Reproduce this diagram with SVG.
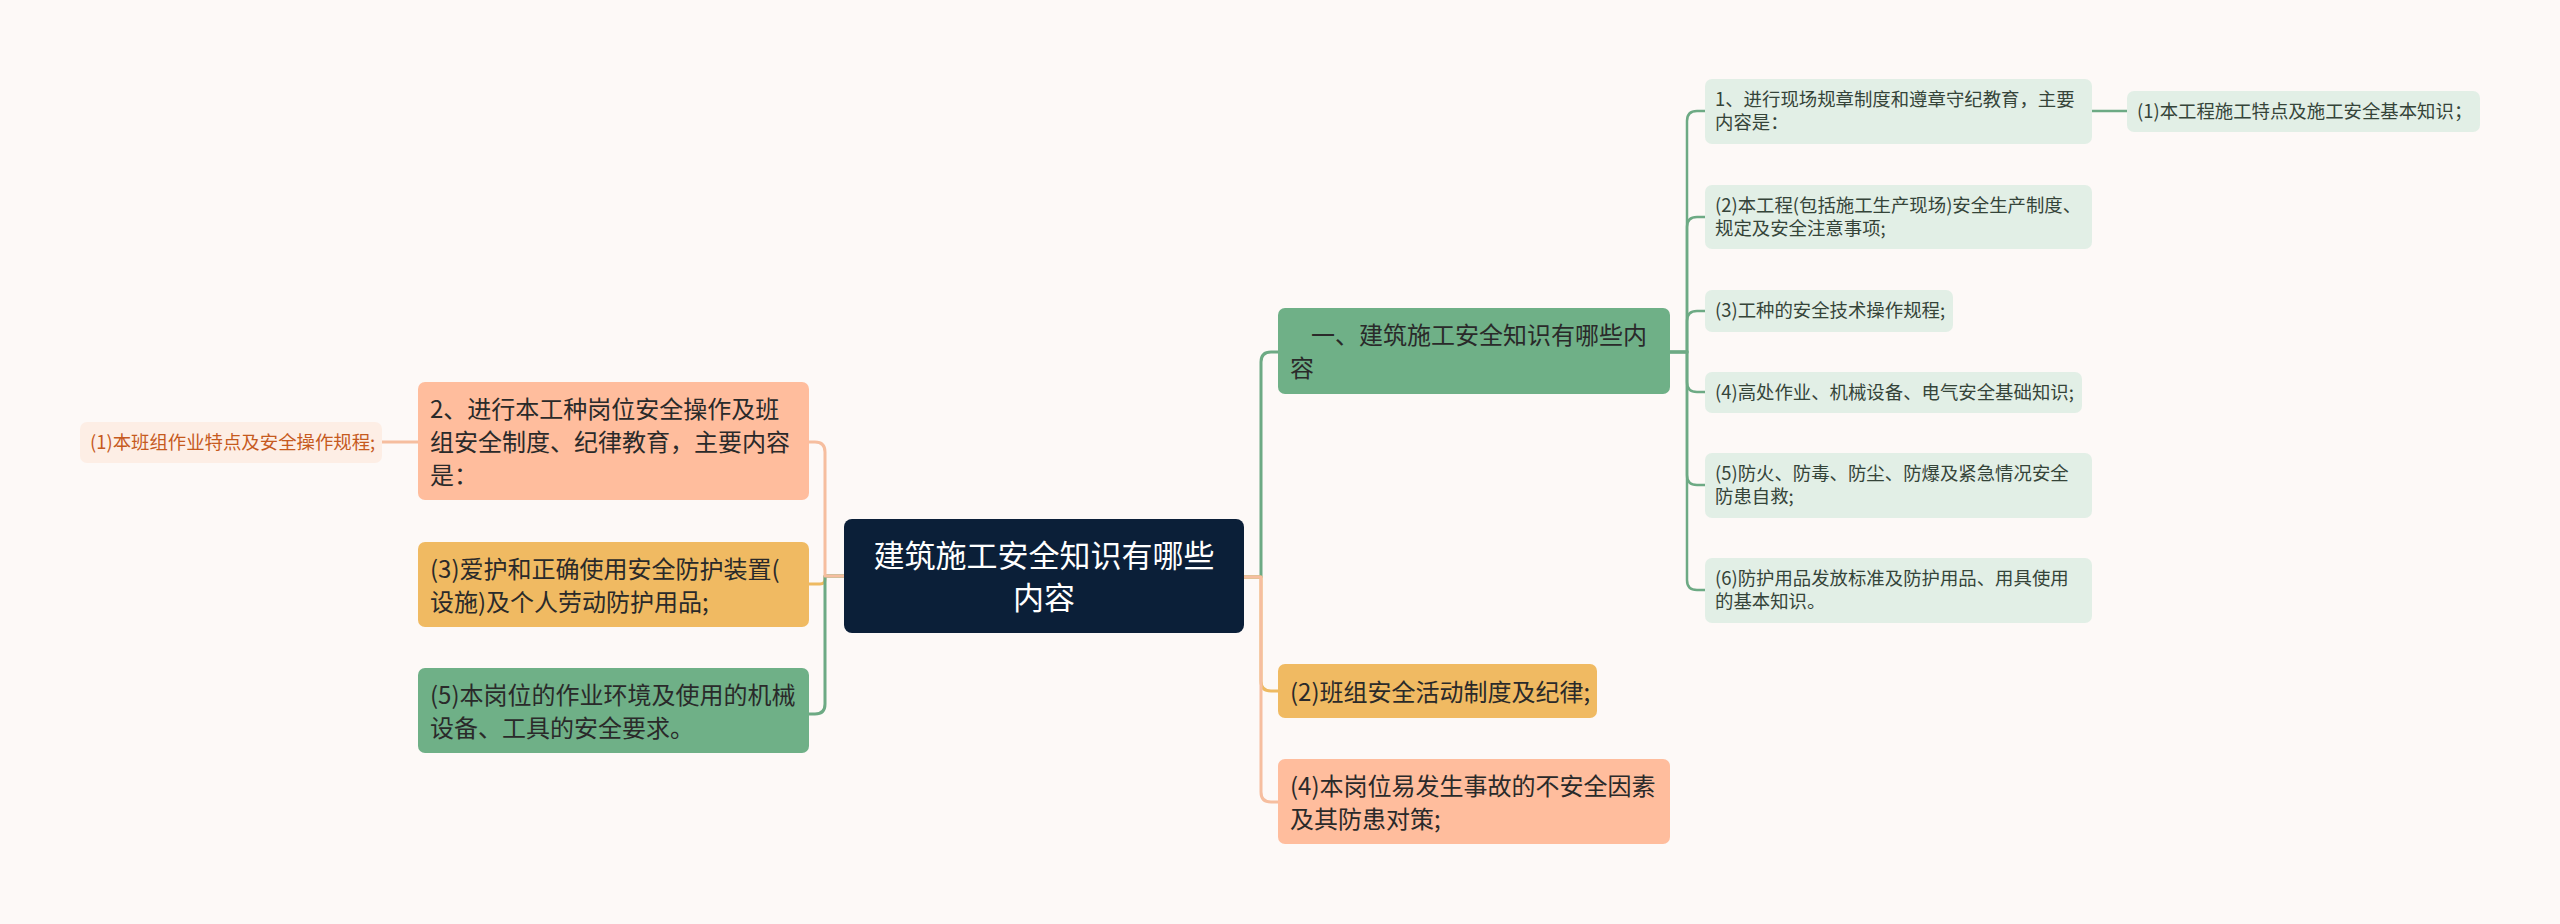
<svg xmlns="http://www.w3.org/2000/svg" width="2560" height="924" viewBox="0 0 2560 924">
<style>
text{font-family:"Noto Sans CJK SC","Noto Sans",sans-serif;}
.root{fill:#0B1F38;}
.rt{fill:#FFFFFF;font-size:31px;text-anchor:middle;}
.green{fill:#6FB087;}
.peach{fill:#FFBD9D;}
.yellow{fill:#F0BA62;}
.l3{fill:#E2EFE6;}
.l3p{fill:#FDEEE5;}
.t2{fill:#2A2A2A;font-size:24px;}
.t3{fill:#354439;font-size:18.4px;}
.t3p{fill:#C65A1E;font-size:18.4px;}
.c{fill:none;stroke-width:3;stroke-linecap:round;stroke-linejoin:round;}
.cg{stroke:#6DAA84;}
.cp{stroke:#F6BE9F;}
.cy{stroke:#EEBA62;}
.c3{fill:none;stroke:#6DAA84;stroke-width:2.5;}
</style>
<rect x="0" y="0" width="2560" height="924" fill="#FDF9F7"/>
<g id="connectors">
<path class="c cg" d="M1244,577 H1261 V362 Q1261,352 1271,352 H1278"/>
<path class="c cy" d="M1244,577 H1261 V681 Q1261,691 1271,691 H1278"/>
<path class="c cp" d="M1244,577 H1261 V792 Q1261,802 1271,802 H1278"/>
<path class="c cy" d="M844,576 H825 V579 Q825,584 820,584 H809"/>
<path class="c cg" d="M844,576 H825 V704 Q825,714 815,714 H809"/>
<path class="c cp" d="M844,576 H825 V452 Q825,442 815,442 H809"/>
<path class="c cp" d="M418,442 H382"/>
<path class="c3" d="M1670,352 H1687 V121 Q1687,111 1697,111 H1705"/>
<path class="c3" d="M1670,352 H1687 V227 Q1687,217 1697,217 H1705"/>
<path class="c3" d="M1670,352 H1687 V321 Q1687,311 1697,311 H1705"/>
<path class="c3" d="M1670,352 H1687 V382 Q1687,392 1697,392 H1705"/>
<path class="c3" d="M1670,352 H1687 V475 Q1687,485 1697,485 H1705"/>
<path class="c3" d="M1670,352 H1687 V580 Q1687,590 1697,590 H1705"/>
<path class="c3" d="M2092,111 H2127"/>
</g>
<g id="root">
<rect class="root" x="844" y="519" width="400" height="114" rx="8"/>
<text class="rt"><tspan x="1044" y="567">建筑施工安全知识有哪些</tspan><tspan x="1044" y="609">内容</tspan></text>
</g>
<g id="n-main">
<rect class="green" x="1278" y="308" width="392" height="86" rx="7"/>
<text class="t2"><tspan x="1311" y="344">一、建筑施工安全知识有哪些内</tspan><tspan x="1290" y="377">容</tspan></text>
</g>
<g id="n-r1">
<rect class="l3" x="1705" y="79" width="387" height="65" rx="7"/>
<text class="t3"><tspan x="1715" y="106">1、进行现场规章制度和遵章守纪教育，主要</tspan><tspan x="1715" y="129">内容是：</tspan></text>
</g>
<g id="n-r1a">
<rect class="l3" x="2127" y="91" width="353" height="41" rx="7"/>
<text class="t3" x="2137" y="118">(1)本工程施工特点及施工安全基本知识；</text>
</g>
<g id="n-r2">
<rect class="l3" x="1705" y="185" width="387" height="64" rx="7"/>
<text class="t3"><tspan x="1715" y="212">(2)本工程(包括施工生产现场)安全生产制度、</tspan><tspan x="1715" y="235">规定及安全注意事项;</tspan></text>
</g>
<g id="n-r3">
<rect class="l3" x="1705" y="290" width="248" height="42" rx="7"/>
<text class="t3" x="1715" y="317">(3)工种的安全技术操作规程;</text>
</g>
<g id="n-r4">
<rect class="l3" x="1705" y="372" width="377" height="41" rx="7"/>
<text class="t3" x="1715" y="399">(4)高处作业、机械设备、电气安全基础知识;</text>
</g>
<g id="n-r5">
<rect class="l3" x="1705" y="453" width="387" height="65" rx="7"/>
<text class="t3"><tspan x="1715" y="480">(5)防火、防毒、防尘、防爆及紧急情况安全</tspan><tspan x="1715" y="503">防患自救;</tspan></text>
</g>
<g id="n-r6">
<rect class="l3" x="1705" y="558" width="387" height="65" rx="7"/>
<text class="t3"><tspan x="1715" y="585">(6)防护用品发放标准及防护用品、用具使用</tspan><tspan x="1715" y="608">的基本知识。</tspan></text>
</g>
<g id="n-r-2">
<rect class="yellow" x="1278" y="664" width="319" height="54" rx="7"/>
<text class="t2" x="1290" y="701">(2)班组安全活动制度及纪律;</text>
</g>
<g id="n-r-4">
<rect class="peach" x="1278" y="759" width="392" height="85" rx="7"/>
<text class="t2"><tspan x="1290" y="795">(4)本岗位易发生事故的不安全因素</tspan><tspan x="1290" y="828">及其防患对策;</tspan></text>
</g>
<g id="n-l2">
<rect class="peach" x="418" y="382" width="391" height="118" rx="7"/>
<text class="t2"><tspan x="430" y="418">2、进行本工种岗位安全操作及班</tspan><tspan x="430" y="451">组安全制度、纪律教育，主要内容</tspan><tspan x="430" y="484">是：</tspan></text>
</g>
<g id="n-l2a">
<rect class="l3p" x="80" y="422" width="302" height="41" rx="7"/>
<text class="t3p" x="90" y="449">(1)本班组作业特点及安全操作规程;</text>
</g>
<g id="n-l3">
<rect class="yellow" x="418" y="542" width="391" height="85" rx="7"/>
<text class="t2"><tspan x="430" y="578">(3)爱护和正确使用安全防护装置(</tspan><tspan x="430" y="611">设施)及个人劳动防护用品;</tspan></text>
</g>
<g id="n-l5">
<rect class="green" x="418" y="668" width="391" height="85" rx="7"/>
<text class="t2"><tspan x="430" y="704">(5)本岗位的作业环境及使用的机械</tspan><tspan x="430" y="737">设备、工具的安全要求。</tspan></text>
</g>
</svg>
